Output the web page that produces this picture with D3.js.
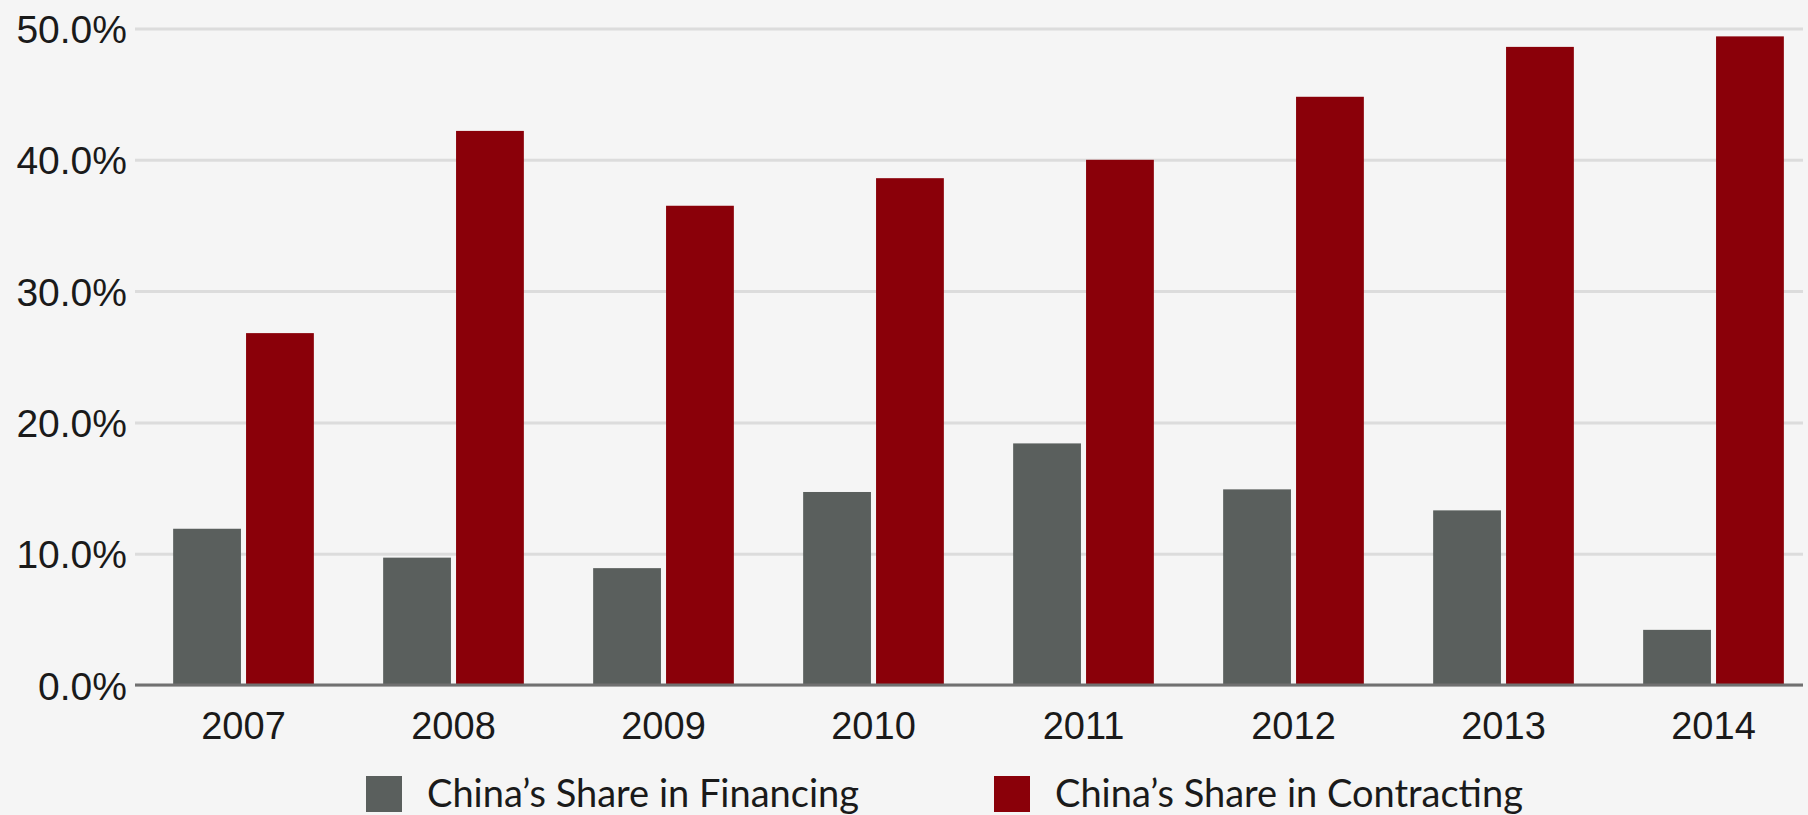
<!DOCTYPE html>
<html>
<head>
<meta charset="utf-8">
<script src="https://cdn.jsdelivr.net/npm/d3@7"></script>
<style>
    html, body { margin: 0; padding: 0; background: #f5f5f5; }
    svg { display: block; font-family: Lato, "Open Sans", sans-serif; }
</style>
</head>
<body>
<div id="chart"></div>
<script>
/* Chart values. */
const years = ['2007', '2008', '2009', '2010', '2011', '2012', '2013', '2014'];
const financing = [11.9, 9.7, 8.9, 14.7, 18.4, 14.9, 13.3, 4.2];
const contracting = [26.8, 42.2, 36.5, 38.6, 40.0, 44.8, 48.6, 49.4];
const seriesNames = ['China\u2019s Share in Financing', 'China\u2019s Share in Contracting'];
const seriesColors = ['#5a5f5d', '#8a0009'];
const yTicks = [0, 10, 20, 30, 40, 50];

/* Chart creation values. */
const W = 1808, H = 815;
const margin = {top: 28.5, right: 5, bottom: 130, left: 135};
const width = W - margin.left - margin.right;
const height = H - margin.top - margin.bottom;

const svg = d3.select('#chart').append('svg')
    .attr('width', W)
    .attr('height', H);

svg.append('rect').attr('width', W).attr('height', H).attr('fill', '#f5f5f5');

const g = svg.append('g')
    .attr('transform', 'translate(' + margin.left + ',' + margin.top + ')');

// Y scale and grid.
const y = d3.scaleLinear().domain([0, 50]).range([height, 0]);

const yAxis = g.append('g')
    .call(d3.axisLeft(y).tickValues(yTicks).tickSize(-width).tickPadding(8)
        .tickFormat(d => d.toFixed(1) + '%'));
yAxis.select('.domain').remove();
yAxis.selectAll('.tick line')
    .attr('stroke', '#dcdcdc')
    .attr('stroke-width', 3);
yAxis.selectAll('.tick text')
    .attr('fill', '#1a1a1a')
    .style('font-size', '39px')
    .attr('dy', '0.36em');

// X scale: the chart is cut off on the right, so the bands run past the plot edge.
const step = 210;
const x = d3.scaleBand().domain(years)
    .range([3.5, 3.5 + step * years.length])
    .paddingInner(0.33).paddingOuter(0.165);
const xs = d3.scaleBand().domain([0, 1]).range([0, x.bandwidth()]).paddingInner(0.07);

// Bars.
const groups = g.selectAll('.year')
    .data(years)
    .enter()
    .append('g')
    .attr('class', 'year')
    .attr('transform', d => 'translate(' + x(d) + ',0)');

groups.selectAll('rect')
    .data((d, i) => [financing[i], contracting[i]])
    .enter()
    .append('rect')
    .attr('x', (d, i) => xs(i))
    .attr('y', d => y(d))
    .attr('width', xs.bandwidth())
    .attr('height', d => height - y(d))
    .attr('fill', (d, i) => seriesColors[i]);

// X axis.
const xAxis = g.append('g')
    .attr('transform', 'translate(0,' + height + ')')
    .call(d3.axisBottom(x).tickSize(0).tickPadding(27));
xAxis.select('.domain').remove();
xAxis.append('line')
    .attr('x1', 0).attr('x2', width)
    .attr('stroke', '#707070')
    .attr('stroke-width', 3);
xAxis.selectAll('.tick text')
    .attr('fill', '#1a1a1a')
    .style('font-size', '38px');

// Legend.
const legend = svg.append('g').attr('transform', 'translate(366,776)');
const item = legend.selectAll('g')
    .data(seriesNames)
    .enter()
    .append('g')
    .attr('transform', (d, i) => 'translate(' + (i * 628) + ',0)');
item.append('rect')
    .attr('width', 36).attr('height', 36)
    .attr('fill', (d, i) => seriesColors[i]);
item.append('text')
    .attr('x', 61).attr('y', 31)
    .attr('fill', '#1a1a1a')
    .style('font-size', '38px')
    .text(d => d);
</script>
</body>
</html>
